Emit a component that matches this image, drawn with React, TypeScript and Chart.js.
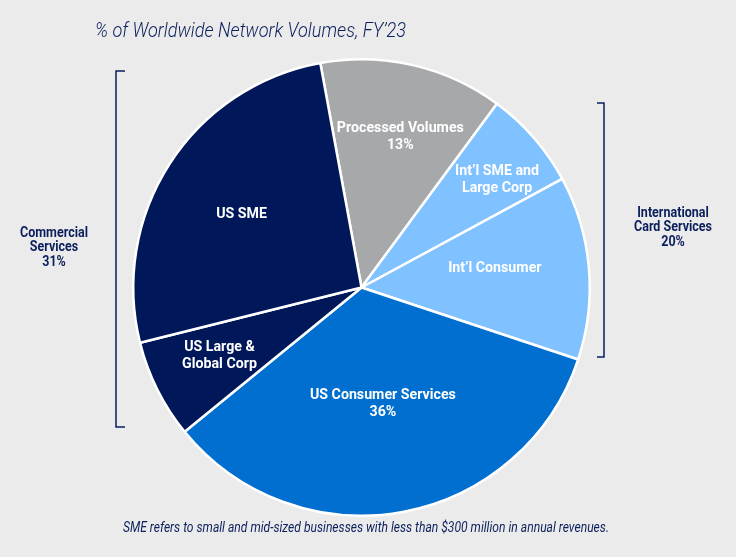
import React, { useEffect, useRef } from "react";
import { Chart, registerables } from "chart.js";

Chart.register(...registerables);

// ---- Data ----
const categories = [
  "Processed Volumes",
  "Int’l SME and Large Corp",
  "Int’l Consumer",
  "US Consumer Services",
  "US Large & Global Corp",
  "US SME",
];
const values = [13, 7, 13, 34, 7, 26];
const sliceLabelLines = [
  ["Processed Volumes", "13%"],
  ["Int’l SME and", "Large Corp"],
  ["Int’l Consumer"],
  ["US Consumer Services", "36%"],
  ["US Large &", "Global Corp"],
  ["US SME"],
];
const groupLeftLines = ["Commercial", "Services", "31%"];
const groupRightLines = ["International", "Card Services", "20%"];
const titleText = "% of Worldwide Network Volumes, FY’23";
const footnoteText =
  "SME refers to small and mid-sized businesses with less than $300 million in annual revenues.";

// ---- Styles / layout ----
const NAVY = "#0b1f5c";
const sliceColors = ["#a7a8aa", "#80c1ff", "#80c1ff", "#006fcf", "#00175a", "#00175a"];
const labelRadiusFrac = [0.68, 0.76, 0.59, 0.52, 0.69, 0.615];
const labelAngleOffsetDeg = [1.5, 2.4, -3.1, 0, 1, -1.5];

function drawScaled(
  ctx: CanvasRenderingContext2D,
  text: string,
  x: number,
  y: number,
  font: string,
  color: string,
  scaleX: number,
  align: CanvasTextAlign = "center",
  baseline: CanvasTextBaseline = "middle"
) {
  ctx.save();
  ctx.font = font;
  ctx.fillStyle = color;
  ctx.textAlign = align;
  ctx.textBaseline = baseline;
  ctx.translate(x, y);
  ctx.scale(scaleX, 1);
  ctx.fillText(text, 0, 0);
  ctx.restore();
}

function fitScale(ctx: CanvasRenderingContext2D, font: string, ref: string, target: number) {
  ctx.save();
  ctx.font = font;
  const w = ctx.measureText(ref).width;
  ctx.restore();
  return w > 0 ? target / w : 1;
}

const labelPlugin = {
  id: "sliceLabels",
  afterDatasetsDraw(chart: any) {
    const ctx: CanvasRenderingContext2D = chart.ctx;
    const meta = chart.getDatasetMeta(0);
    const font = "bold 15px 'Roboto', sans-serif";
    const sx = fitScale(ctx, font, "Processed Volumes", 127);
    meta.data.forEach((arc: any, i: number) => {
      const p = arc.getProps(["x", "y", "startAngle", "endAngle", "outerRadius"], true);
      const mid = (p.startAngle + p.endAngle) / 2 + (labelAngleOffsetDeg[i] * Math.PI) / 180;
      const r = p.outerRadius * labelRadiusFrac[i];
      const cx = p.x + Math.cos(mid) * r;
      const cy = p.y + Math.sin(mid) * r;
      const lines = sliceLabelLines[i];
      const lh = 17;
      const y0 = cy - ((lines.length - 1) * lh) / 2;
      lines.forEach((ln, j) => drawScaled(ctx, ln, cx, y0 + j * lh, font, "#ffffff", sx));
    });
  },
};

const decorPlugin = {
  id: "decor",
  afterDraw(chart: any) {
    const ctx: CanvasRenderingContext2D = chart.ctx;
    // title
    const tFont = "italic 300 21px 'Roboto', sans-serif";
    const tsx = fitScale(ctx, tFont, titleText, 311);
    drawScaled(ctx, titleText, 95, 37, tFont, NAVY, tsx, "left", "alphabetic");
    // footnote
    const fFont = "italic 14px 'Roboto', sans-serif";
    const fsx = fitScale(ctx, fFont, footnoteText, 486);
    drawScaled(ctx, footnoteText, 366, 528, fFont, NAVY, fsx, "center", "middle");
    // brackets
    ctx.save();
    ctx.strokeStyle = NAVY;
    ctx.lineWidth = 1.5;
    ctx.beginPath();
    ctx.moveTo(125, 71);
    ctx.lineTo(116, 71);
    ctx.lineTo(116, 427);
    ctx.lineTo(125, 427);
    ctx.moveTo(597, 103);
    ctx.lineTo(604, 103);
    ctx.lineTo(604, 357);
    ctx.lineTo(597, 357);
    ctx.stroke();
    ctx.restore();
    // group labels
    const gFont = "bold 14px 'Roboto', sans-serif";
    const gsx = fitScale(ctx, gFont, "Card Services", 78);
    groupLeftLines.forEach((ln, j) => drawScaled(ctx, ln, 54, 233 + j * 14.5, gFont, NAVY, gsx));
    groupRightLines.forEach((ln, j) => drawScaled(ctx, ln, 673, 213 + j * 14.5, gFont, NAVY, gsx));
  },
};

export default function App() {
  const ref = useRef<HTMLCanvasElement>(null);
  useEffect(() => {
    const chart = new Chart(ref.current!, {
      type: "pie",
      data: {
        labels: categories,
        datasets: [
          {
            data: values,
            backgroundColor: sliceColors,
            borderColor: "#ffffff",
            borderWidth: 2.5,
          },
        ],
      },
      options: {
        responsive: false,
        animation: false,
        rotation: -10.4,
        layout: { padding: { top: 58, bottom: 40, left: 132, right: 145 } },
        plugins: { legend: { display: false }, tooltip: { enabled: false } },
      },
      plugins: [labelPlugin, decorPlugin],
    } as any);
    return () => chart.destroy();
  }, []);
  return (
    <div
      style={{
        position: "fixed",
        left: 0,
        top: 0,
        width: 736,
        height: 557,
        background: "#ebebeb",
      }}
    >
      <canvas ref={ref} width={736} height={557} style={{ display: "block" }} />
    </div>
  );
}
